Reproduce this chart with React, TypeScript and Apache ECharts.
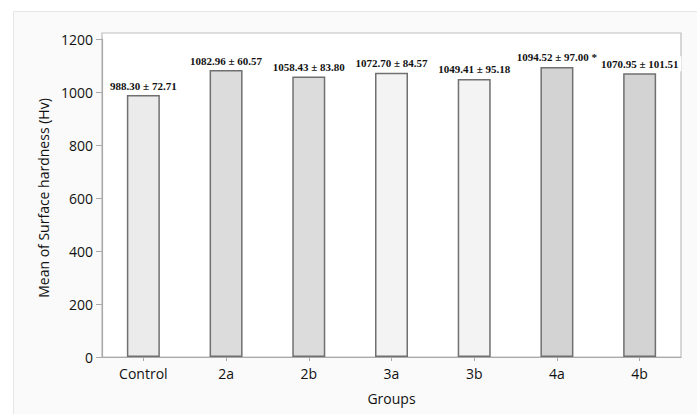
import React, { useEffect, useRef } from "react";
import * as echarts from "echarts";

const categories = ["Control", "2a", "2b", "3a", "3b", "4a", "4b"];
const means = [988.3, 1082.96, 1058.43, 1072.7, 1049.41, 1094.52, 1070.95];
const sds = [72.71, 60.57, 83.8, 84.57, 95.18, 97.0, 101.51];
const significant = [false, false, false, false, false, true, false];
const barColors = ["#ebebeb", "#dcdcdc", "#dcdcdc", "#f3f3f3", "#f3f3f3", "#d3d3d3", "#d3d3d3"];
const yTicks = [0, 200, 400, 600, 800, 1000, 1200];

export default function App() {
  const ref = useRef<HTMLDivElement>(null);
  useEffect(() => {
    if (!ref.current) return;
    const chart = echarts.init(ref.current, undefined, { renderer: "svg" });
    const sans = "'Open Sans', 'Noto Sans', sans-serif";
    chart.setOption({
      animation: false,
      backgroundColor: "#ffffff",
      graphic: [
        {
          type: "rect",
          z: -10,
          silent: true,
          shape: { x: 13.5, y: 11.5, width: 700, height: 420 },
          style: { fill: "#fafafa", stroke: "#e6e6e6", lineWidth: 1 },
        },
        {
          type: "rect",
          z: -5,
          silent: true,
          shape: { x: 102, y: 33, width: 579, height: 324 },
          style: { fill: "#ffffff", stroke: "#bdbdbd", lineWidth: 1.2 },
        },
      ],
      grid: { left: 102, right: 16, top: 39, bottom: 57 },
      xAxis: {
        type: "category",
        data: categories,
        name: "Groups",
        nameLocation: "middle",
        nameGap: 34,
        nameTextStyle: { fontFamily: sans, fontSize: 14, color: "#111" },
        axisLine: { show: true, lineStyle: { color: "#aaaaaa", width: 1.2 } },
        axisTick: { show: true, alignWithLabel: true, length: 4, lineStyle: { color: "#aaaaaa" } },
        axisLabel: { fontFamily: sans, fontSize: 14, color: "#111", margin: 9 },
      },
      yAxis: {
        type: "value",
        min: yTicks[0],
        max: yTicks[yTicks.length - 1],
        interval: 200,
        name: "Mean of Surface hardness (Hv)",
        nameLocation: "middle",
        nameGap: 46,
        nameTextStyle: { fontFamily: sans, fontSize: 14, color: "#111" },
        axisLine: { show: true, lineStyle: { color: "#aaaaaa", width: 1.2 } },
        axisTick: { show: true, length: 6, lineStyle: { color: "#aaaaaa" } },
        axisLabel: {
          fontFamily: sans,
          fontSize: 14,
          color: "#111",
          margin: 9,
          formatter: (v: number) => String(v),
        },
        splitLine: { show: false },
      },
      series: [
        {
          type: "bar",
          barWidth: 33,
          data: means.map((m, i) => ({
            value: m,
            itemStyle: { color: barColors[i], borderColor: "#707070", borderWidth: 1.5 },
          })),
          label: {
            show: true,
            position: "top",
            distance: 2,
            formatter: (p: any) =>
              `${means[p.dataIndex].toFixed(2)} ± ${sds[p.dataIndex].toFixed(2)}${significant[p.dataIndex] ? " *" : ""}`,
            fontFamily: "'Liberation Serif', 'DejaVu Serif', serif",
            fontWeight: "bold",
            fontSize: 11,
            color: "#111",
            backgroundColor: "#ffffff",
            padding: [2, 3],
          },
        },
      ],
    });
    return () => chart.dispose();
  }, []);
  return (
    <div
      ref={ref}
      style={{ position: "fixed", left: 0, top: 0, width: 697, height: 414 }}
    />
  );
}
